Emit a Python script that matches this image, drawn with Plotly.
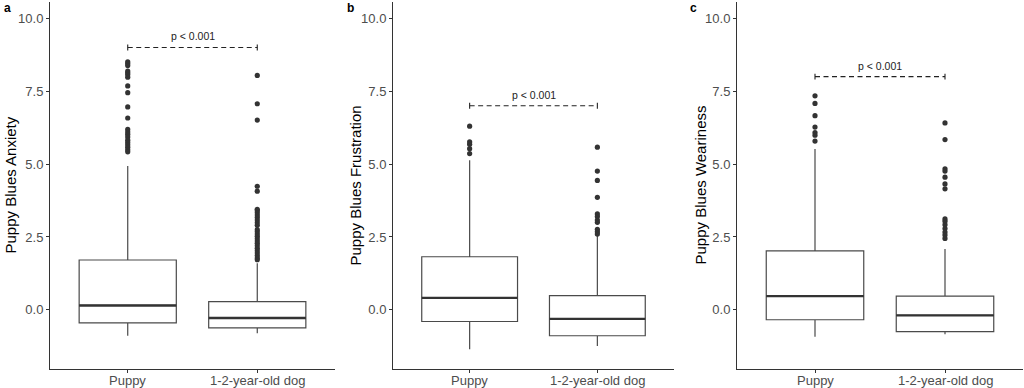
import plotly.graph_objects as go

# ---------------- data ----------------
categories = ["Puppy", "1-2-year-old dog"]
panel_letters = ["a", "b", "c"]
y_titles = ["Puppy Blues Anxiety", "Puppy Blues Frustration", "Puppy Blues Weariness"]
y_tick_vals = [0.0, 2.5, 5.0, 7.5, 10.0]
y_tick_text = ["0.0", "2.5", "5.0", "7.5", "10.0"]

# box statistics per panel: [Puppy, 1-2-year-old dog]
anx_q1 = [-0.45, -0.62]
anx_med = [0.15, -0.28]
anx_q3 = [1.71, 0.28]
anx_lo = [-0.89, -0.80]
anx_hi = [4.93, 1.60]
anx_out_puppy = [8.51, 8.45, 8.38, 8.19, 8.13, 8.07, 7.98, 7.68, 7.45, 6.96, 6.58,
                 6.19, 6.10, 6.02, 5.93, 5.82, 5.74, 5.66, 5.58, 5.49, 5.42]
anx_out_dog = [8.04, 7.07, 6.51, 4.24, 4.07, 3.45, 3.40, 3.33, 3.25, 3.17, 3.08, 2.99,
               2.90, 2.75, 2.68, 2.60, 2.52, 2.44, 2.36, 2.28, 2.20, 2.11, 2.03,
               1.95, 1.86, 1.78, 1.72]

fru_q1 = [-0.40, -0.89]
fru_med = [0.41, -0.31]
fru_q3 = [1.82, 0.49]
fru_lo = [-1.35, -1.24]
fru_hi = [5.13, 2.56]
fru_out_puppy = [6.30, 5.76, 5.68, 5.53, 5.36]
fru_out_dog = [5.58, 4.76, 4.44, 3.86, 3.29, 3.20, 3.08, 3.00, 2.76, 2.68, 2.60]

wea_q1 = [-0.34, -0.75]
wea_med = [0.47, -0.19]
wea_q3 = [2.02, 0.47]
wea_lo = [-0.92, -0.84]
wea_hi = [5.52, 2.09]
wea_out_puppy = [7.34, 7.08, 6.66, 6.27, 6.08, 5.99, 5.79]
wea_out_dog = [6.41, 5.84, 4.84, 4.76, 4.55, 4.32, 4.15, 3.12, 3.04, 2.92, 2.79,
               2.67, 2.57, 2.45]

p_labels = ["p < 0.001", "p < 0.001", "p < 0.001"]
bracket_y = [9.0, 7.0, 8.0]

panels = [
    (anx_q1, anx_med, anx_q3, anx_lo, anx_hi, anx_out_puppy, anx_out_dog),
    (fru_q1, fru_med, fru_q3, fru_lo, fru_hi, fru_out_puppy, fru_out_dog),
    (wea_q1, wea_med, wea_q3, wea_lo, wea_hi, wea_out_puppy, wea_out_dog),
]

# ---------------- layout geometry ----------------
W, H = 1024, 388
x_domains = [(50 / W, 335 / W), (393 / W, 674 / W), (737 / W, 1023 / W)]
y_domain = ((H - 369) / H, (H - 2) / H)
title_x_px = [10, 355, 700]
letter_x_px = [2, 345, 688]
xlabel_y_px = 380
FONT = "Liberation Sans, Arial, Helvetica, sans-serif"
BOX_W = 0.75

fig = go.Figure()
positions = [1, 2]

for i, (q1, med, q3, lo, hi, out_p, out_d) in enumerate(panels):
    xa = "x" if i == 0 else f"x{i+1}"
    ya = "y" if i == 0 else f"y{i+1}"
    fig.add_trace(go.Box(
        x=positions, q1=q1, median=med, q3=q3, lowerfence=lo, upperfence=hi,
        width=BOX_W, whiskerwidth=0, boxpoints=False,
        fillcolor="white", line=dict(color="#4a4a4a", width=1.2),
        xaxis=xa, yaxis=ya, showlegend=False, hoverinfo="skip",
    ))
    # thicker median lines (ggplot style)
    for p, m in zip(positions, med):
        fig.add_trace(go.Scatter(
            x=[p - BOX_W / 2, p + BOX_W / 2], y=[m, m], mode="lines",
            line=dict(color="#333333", width=2.4),
            xaxis=xa, yaxis=ya, showlegend=False, hoverinfo="skip",
        ))
    # outliers
    for p, outs in zip(positions, [out_p, out_d]):
        fig.add_trace(go.Scatter(
            x=[p] * len(outs), y=outs, mode="markers",
            marker=dict(color="#333333", size=5.2),
            xaxis=xa, yaxis=ya, showlegend=False, hoverinfo="skip",
        ))
    # significance bracket
    by = bracket_y[i]
    fig.add_trace(go.Scatter(
        x=positions, y=[by, by], mode="lines",
        line=dict(color="#222222", width=1.1, dash="5px,3.5px"),
        xaxis=xa, yaxis=ya, showlegend=False, hoverinfo="skip",
    ))
    for p in positions:
        fig.add_trace(go.Scatter(
            x=[p, p], y=[by - 0.1, by + 0.1], mode="lines",
            line=dict(color="#222222", width=1.1),
            xaxis=xa, yaxis=ya, showlegend=False, hoverinfo="skip",
        ))
    fig.add_annotation(
        x=sum(positions) / 2, y=by + 0.38, xref=xa, yref=ya, text=p_labels[i],
        showarrow=False, font=dict(family=FONT, size=10.5, color="#222222"),
        xanchor="center", yanchor="middle",
    )
    # x category labels
    for p, cat in zip(positions, categories):
        fig.add_annotation(
            x=p, y=1 - xlabel_y_px / H, xref=xa, yref="paper", text=cat,
            showarrow=False, font=dict(family=FONT, size=13, color="#4D4D4D"),
            xanchor="center", yanchor="middle",
        )
    # axis title
    fig.add_annotation(
        x=title_x_px[i] / W, y=sum(y_domain) / 2, xref="paper", yref="paper",
        text=y_titles[i], textangle=-90, showarrow=False,
        font=dict(family=FONT, size=15, color="black"),
        xanchor="center", yanchor="middle",
    )
    # panel letter
    fig.add_annotation(
        x=letter_x_px[i] / W, y=1 - 8 / H, xref="paper", yref="paper",
        text=f"<b>{panel_letters[i]}</b>", showarrow=False,
        font=dict(family=FONT, size=12, color="black"),
        xanchor="left", yanchor="middle",
    )

    xkey = "xaxis" if i == 0 else f"xaxis{i+1}"
    ykey = "yaxis" if i == 0 else f"yaxis{i+1}"
    fig.layout[xkey] = dict(
        domain=list(x_domains[i]), anchor=ya, range=[0.4, 2.6],
        tickvals=positions, showticklabels=False, automargin=False,
        showline=True, linecolor="#333333", linewidth=1,
        ticks="outside", ticklen=3, tickcolor="#333333",
        showgrid=False, zeroline=False,
    )
    fig.layout[ykey] = dict(
        domain=list(y_domain), anchor=xa, range=[-2.03, 10.56],
        tickvals=y_tick_vals, ticktext=y_tick_text, automargin=False,
        showline=True, linecolor="#333333", linewidth=1,
        ticks="outside", ticklen=3, tickcolor="#333333",
        showgrid=False, zeroline=False,
        tickfont=dict(family=FONT, size=13, color="#4D4D4D"),
    )

fig.update_layout(
    template="none",
    width=W, height=H, margin=dict(l=0, r=0, t=0, b=0, autoexpand=False),
    paper_bgcolor="white", plot_bgcolor="white",
    font=dict(family=FONT), showlegend=False,
)

fig.write_html(
    "out.html",
    config={"displayModeBar": False},
    post_script="document.body.style.margin='0';document.body.style.padding='0';"
                "document.body.style.overflow='hidden';",
)
